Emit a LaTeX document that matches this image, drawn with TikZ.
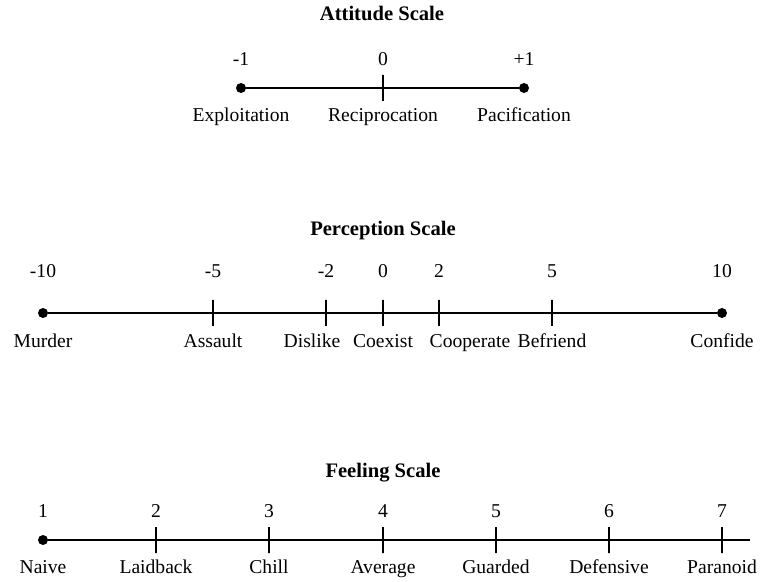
\documentclass[tikz,border=0pt]{standalone}
\usepackage{fontspec}
\setmainfont{Liberation Serif}
\tikzset{
  scaleline/.style={line width=0.75pt},
  endpoint/.style={circle, fill, inner sep=0pt, minimum size=5pt},
  tickmark/.style={draw, line width=0.75pt, inner sep=0pt, minimum width=0pt, minimum height=13pt},
  numlabel/.style={font=\fontsize{9.8}{11}\selectfont, inner sep=0pt, text height=1.6ex, text depth=0.4ex},
  wordlabel/.style={font=\fontsize{9.8}{11}\selectfont, inner sep=0pt, text height=1.6ex, text depth=0.4ex},
  scaletitle/.style={font=\fontsize{10.3}{12}\selectfont\bfseries, inner sep=0pt, text height=1.6ex, text depth=0.4ex},
}

\begin{document}
\begin{tikzpicture}[x=0.5pt, y=-0.5pt]
  \useasboundingbox (0,0) rectangle (760,582);

  % attitude scale
  \node[scaletitle] (atitle) at (382,15) {Attitude Scale};
  \node[endpoint] (a1) at (241,88) {};
  \node[tickmark] (a2) at (383,88) {};
  \node[endpoint] (a3) at (524,88) {};
  \draw[scaleline] (a1) -- (a3);
  \node[numlabel] at (241,60) {-1};
  \node[numlabel] at (383,60) {0};
  \node[numlabel] at (524,60) {+1};
  \node[wordlabel] at (241,116) {Exploitation};
  \node[wordlabel] at (383,116) {Reciprocation};
  \node[wordlabel] at (524,116) {Pacification};

  % perception scale
  \node[scaletitle] (ptitle) at (383,230) {Perception Scale};
  \node[endpoint] (p1) at (43,313) {};
  \node[tickmark] (p2) at (213,313) {};
  \node[tickmark] (p3) at (326,313) {};
  \node[tickmark] (p4) at (383,313) {};
  \node[tickmark] (p5) at (439,313) {};
  \node[tickmark] (p6) at (552,313) {};
  \node[endpoint] (p7) at (722,313) {};
  \draw[scaleline] (p1) -- (p7);
  \node[numlabel] at (43,272) {-10};
  \node[numlabel] at (213,272) {-5};
  \node[numlabel] at (326,272) {-2};
  \node[numlabel] at (383,272) {0};
  \node[numlabel] at (439,272) {2};
  \node[numlabel] at (552,272) {5};
  \node[numlabel] at (722,272) {10};
  \node[wordlabel] at (43,342) {Murder};
  \node[wordlabel] at (213,342) {Assault};
  \node[wordlabel] at (312,342) {Dislike};
  \node[wordlabel] at (383,342) {Coexist};
  \node[wordlabel] at (470,342) {Cooperate};
  \node[wordlabel] at (552,342) {Befriend};
  \node[wordlabel] at (722,342) {Confide};

  % feeling scale
  \node[scaletitle] (ftitle) at (383,472) {Feeling Scale};
  \node[endpoint] (f1) at (43,540) {};
  \node[tickmark] (f2) at (156,540) {};
  \node[tickmark] (f3) at (269,540) {};
  \node[tickmark] (f4) at (383,540) {};
  \node[tickmark] (f5) at (496,540) {};
  \node[tickmark] (f6) at (609,540) {};
  \node[tickmark] (f7) at (722,540) {};
  \coordinate (fend) at (750,540);
  \draw[scaleline] (f1) -- (fend);
  \node[numlabel] at (43,512) {1};
  \node[numlabel] at (156,512) {2};
  \node[numlabel] at (269,512) {3};
  \node[numlabel] at (383,512) {4};
  \node[numlabel] at (496,512) {5};
  \node[numlabel] at (609,512) {6};
  \node[numlabel] at (722,512) {7};
  \node[wordlabel] at (43,568) {Naive};
  \node[wordlabel] at (156,568) {Laidback};
  \node[wordlabel] at (269,568) {Chill};
  \node[wordlabel] at (383,568) {Average};
  \node[wordlabel] at (496,568) {Guarded};
  \node[wordlabel] at (609,568) {Defensive};
  \node[wordlabel] at (722,568) {Paranoid};
\end{tikzpicture}
\end{document}
